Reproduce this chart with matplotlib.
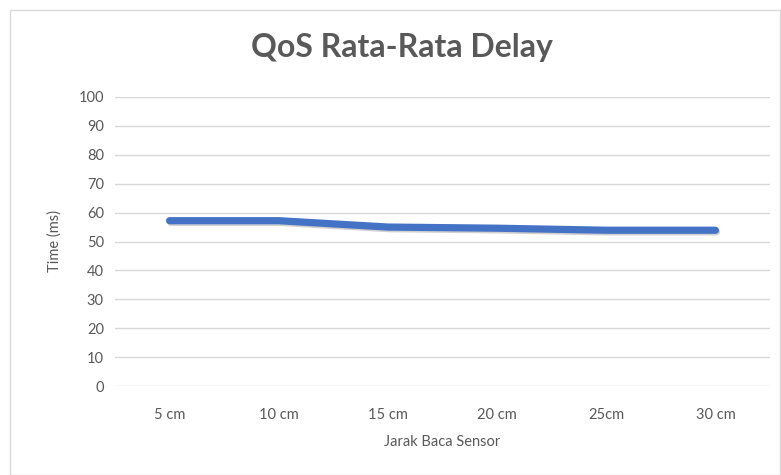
import matplotlib
matplotlib.use("Agg")
import matplotlib.pyplot as plt
import matplotlib.patheffects as pe
from matplotlib.patches import Rectangle

categories = ["5 cm", "10 cm", "15 cm", "20 cm", "25cm", "30 cm"]
delay_ms = [57.2, 57.2, 55.0, 54.6, 53.9, 53.9]
y_ticks = [0, 10, 20, 30, 40, 50, 60, 70, 80, 90, 100]

plt.rcParams['font.family'] = ['Lato', 'DejaVu Sans']
txt = '#595959'

fig = plt.figure(figsize=(7.81, 4.75), dpi=100)
fig.patches.append(Rectangle((10/781, 0), 1 - 10/781 - 0.001, 1 - 10/475, transform=fig.transFigure,
                             fill=False, edgecolor='#D9D9D9', linewidth=1))
ax = fig.add_axes([115/781, 1 - 386/475, 655/781, (386 - 97)/475])

x = list(range(len(categories)))
ax.plot(x, delay_ms, color='#4472C4', linewidth=5.2, solid_capstyle='round', solid_joinstyle='round',
        path_effects=[pe.SimpleLineShadow(offset=(0.8, -1.2), shadow_color='black', alpha=0.18), pe.Normal()])

ax.set_xlim(-0.5, len(categories) - 0.5)
ax.set_ylim(0, 100)
ax.set_yticks(y_ticks)
ax.set_xticks(x)
ax.set_xticklabels(categories)
ax.grid(axis='y', color='#D9D9D9', linewidth=1)
ax.set_axisbelow(True)
for s in ax.spines.values():
    s.set_visible(False)
ax.tick_params(length=0, colors=txt, labelsize=10.5)
ax.tick_params(axis='x', pad=16)
ax.tick_params(axis='y', pad=8)

ax.set_xlabel('Jarak Baca Sensor', color=txt, fontsize=10.5, labelpad=9)
ax.set_ylabel('Time (ms)', color=txt, fontsize=10.5, labelpad=12)
fig.text(402/781, 1 - 47.5/475, 'QoS Rata-Rata Delay', ha='center', va='center',
         fontsize=23, fontweight='bold', color=txt)

fig.savefig('out.png', dpi=100)
